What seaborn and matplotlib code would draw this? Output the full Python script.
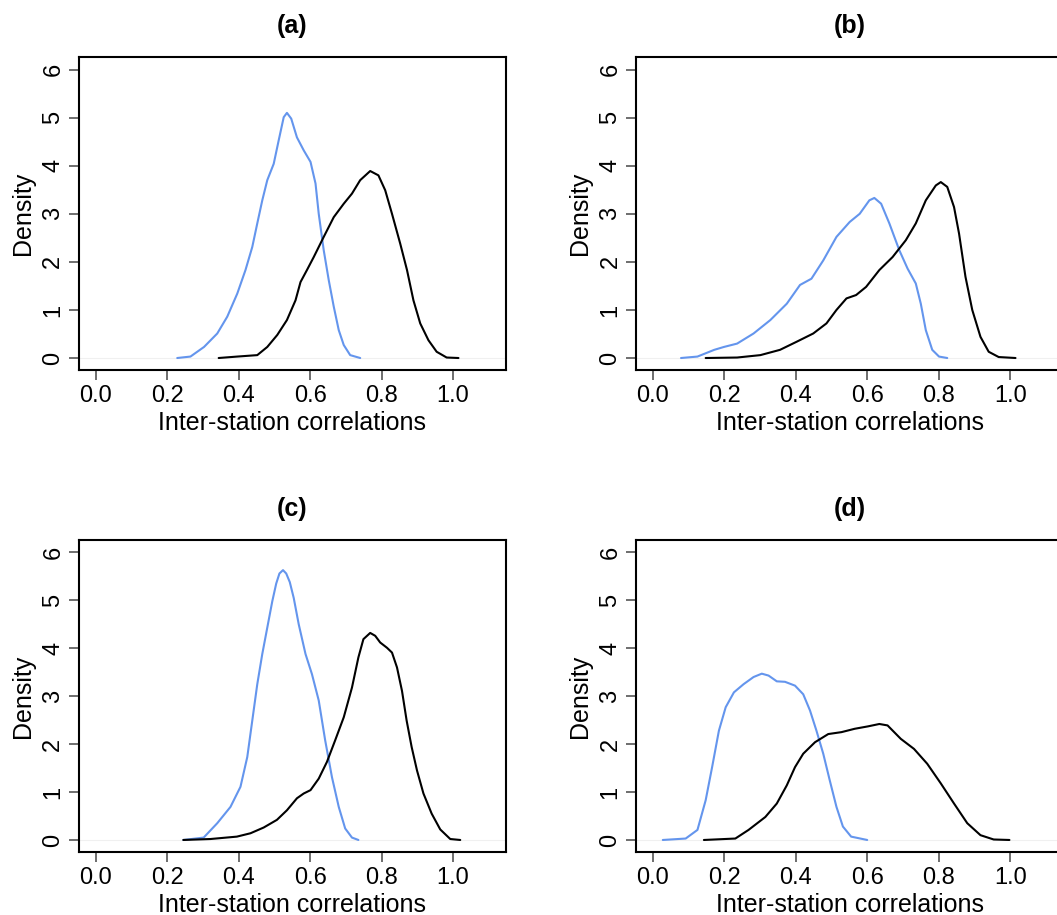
"""
Density curves of inter-station correlations, four panels (a)-(d).
"""

import matplotlib
matplotlib.use("Agg")
import matplotlib.pyplot as plt
import pandas as pd
import seaborn as sns

# ==========================================================
# Data (curve points)
# ==========================================================

PANEL_LABELS = ["(a)", "(b)", "(c)", "(d)"]

A_BLUE_X = [0.228, 0.265, 0.303, 0.340, 0.368, 0.396, 0.419, 0.438, 0.452, 0.466, 0.480,
            0.498, 0.512, 0.526, 0.535, 0.547, 0.563, 0.582, 0.601, 0.615, 0.624, 0.638,
            0.652, 0.666, 0.680, 0.694, 0.712, 0.740]
A_BLUE_Y = [0.00, 0.03, 0.23, 0.51, 0.86, 1.34, 1.83, 2.31, 2.80, 3.28, 3.70,
            4.04, 4.53, 5.01, 5.10, 4.98, 4.59, 4.32, 4.08, 3.63, 3.00, 2.24,
            1.62, 1.07, 0.58, 0.27, 0.06, 0.00]
A_BLACK_X = [0.344, 0.396, 0.452, 0.480, 0.508, 0.535, 0.559, 0.573, 0.591, 0.610, 0.638,
             0.666, 0.694, 0.717, 0.740, 0.768, 0.791, 0.810, 0.829, 0.852, 0.871, 0.889,
             0.908, 0.931, 0.954, 0.982, 1.015]
A_BLACK_Y = [0.00, 0.03, 0.06, 0.23, 0.48, 0.79, 1.20, 1.58, 1.83, 2.10, 2.52,
             2.93, 3.21, 3.42, 3.70, 3.89, 3.80, 3.49, 3.00, 2.38, 1.83, 1.20,
             0.72, 0.37, 0.13, 0.01, 0.00]

B_BLUE_X = [0.079, 0.125, 0.172, 0.199, 0.236, 0.282, 0.329, 0.375, 0.412, 0.444, 0.477,
            0.514, 0.551, 0.579, 0.606, 0.620, 0.639, 0.662, 0.690, 0.713, 0.736, 0.750,
            0.764, 0.782, 0.801, 0.824]
B_BLUE_Y = [0.00, 0.03, 0.17, 0.23, 0.30, 0.51, 0.79, 1.13, 1.52, 1.65, 2.03,
            2.52, 2.83, 3.00, 3.28, 3.33, 3.21, 2.80, 2.24, 1.86, 1.55, 1.13,
            0.58, 0.17, 0.03, 0.00]
B_BLACK_X = [0.148, 0.236, 0.301, 0.356, 0.403, 0.449, 0.486, 0.514, 0.542, 0.569, 0.597,
             0.634, 0.671, 0.708, 0.736, 0.764, 0.792, 0.806, 0.824, 0.843, 0.857, 0.875,
             0.894, 0.917, 0.940, 0.968, 1.015]
B_BLACK_Y = [0.00, 0.01, 0.06, 0.17, 0.34, 0.51, 0.72, 1.00, 1.24, 1.31, 1.48,
             1.83, 2.10, 2.45, 2.80, 3.28, 3.59, 3.66, 3.56, 3.14, 2.59, 1.69,
             1.00, 0.44, 0.13, 0.02, 0.00]

C_BLUE_X = [0.245, 0.302, 0.340, 0.377, 0.405, 0.424, 0.438, 0.452, 0.466, 0.480, 0.494,
            0.505, 0.514, 0.524, 0.533, 0.543, 0.554, 0.568, 0.587, 0.605, 0.624, 0.642,
            0.661, 0.680, 0.698, 0.717, 0.735]
C_BLUE_Y = [0.00, 0.05, 0.35, 0.69, 1.11, 1.73, 2.49, 3.25, 3.88, 4.43, 4.98,
            5.35, 5.56, 5.63, 5.56, 5.38, 5.05, 4.50, 3.88, 3.46, 2.91, 2.08,
            1.31, 0.69, 0.24, 0.05, 0.00]
C_BLACK_X = [0.245, 0.321, 0.395, 0.433, 0.470, 0.507, 0.535, 0.563, 0.582, 0.601, 0.624,
             0.647, 0.670, 0.694, 0.717, 0.735, 0.749, 0.768, 0.782, 0.796, 0.815, 0.829,
             0.843, 0.857, 0.870, 0.884, 0.899, 0.917, 0.940, 0.964, 0.992, 1.020]
C_BLACK_Y = [0.00, 0.02, 0.07, 0.14, 0.26, 0.42, 0.62, 0.87, 0.97, 1.04, 1.28,
             1.63, 2.08, 2.56, 3.18, 3.81, 4.19, 4.32, 4.26, 4.12, 4.01, 3.91,
             3.60, 3.11, 2.49, 1.94, 1.45, 0.97, 0.55, 0.22, 0.02, 0.00]

D_BLUE_X = [0.028, 0.092, 0.125, 0.148, 0.166, 0.185, 0.204, 0.227, 0.254, 0.282, 0.305,
            0.324, 0.347, 0.370, 0.398, 0.421, 0.440, 0.458, 0.477, 0.495, 0.514, 0.532,
            0.555, 0.600]
D_BLUE_Y = [0.00, 0.03, 0.21, 0.83, 1.52, 2.28, 2.77, 3.08, 3.25, 3.40, 3.47,
            3.43, 3.31, 3.30, 3.22, 3.04, 2.70, 2.28, 1.80, 1.25, 0.69, 0.28,
            0.07, 0.00]
D_BLACK_X = [0.143, 0.231, 0.268, 0.315, 0.347, 0.375, 0.398, 0.421, 0.454, 0.491, 0.528,
             0.565, 0.602, 0.634, 0.657, 0.694, 0.731, 0.768, 0.806, 0.843, 0.880, 0.917,
             0.954, 0.998]
D_BLACK_Y = [0.00, 0.03, 0.21, 0.48, 0.76, 1.14, 1.52, 1.80, 2.04, 2.21, 2.25,
             2.32, 2.37, 2.42, 2.39, 2.11, 1.90, 1.59, 1.18, 0.76, 0.35, 0.10,
             0.01, 0.00]

X_TICKS = [0.0, 0.2, 0.4, 0.6, 0.8, 1.0]
Y_TICKS = [0, 1, 2, 3, 4, 5, 6]

BLUE = "#6495ED"

PANELS = [
    (A_BLUE_X, A_BLUE_Y, A_BLACK_X, A_BLACK_Y),
    (B_BLUE_X, B_BLUE_Y, B_BLACK_X, B_BLACK_Y),
    (C_BLUE_X, C_BLUE_Y, C_BLACK_X, C_BLACK_Y),
    (D_BLUE_X, D_BLUE_Y, D_BLACK_X, D_BLACK_Y),
]

# axes positions in figure fractions (right column runs past the figure edge)
POSITIONS = [
    [0.0747, 0.5956, 0.404, 0.342],
    [0.6017, 0.5956, 0.404, 0.342],
    [0.0747, 0.0689, 0.404, 0.341],
    [0.6017, 0.0689, 0.404, 0.341],
]

# ==========================================================
# Plot
# ==========================================================

sns.set_style("ticks")
plt.rcParams["font.family"] = ["Liberation Sans", "DejaVu Sans"]
plt.rcParams["axes.linewidth"] = 1.5
plt.rcParams["text.color"] = "black"
plt.rcParams["axes.labelcolor"] = "black"
plt.rcParams["xtick.labelcolor"] = "black"
plt.rcParams["ytick.labelcolor"] = "black"

fig = plt.figure(figsize=(10.57, 9.15), dpi=100)

for label, (bx, by, kx, ky), pos in zip(PANEL_LABELS, PANELS, POSITIONS):

    ax = fig.add_axes(pos)

    ax.axhline(0, color="#f0f0f0", lw=0.8, zorder=0)

    sns.lineplot(
        data=pd.DataFrame({"x": bx, "y": by}),
        x="x", y="y", color=BLUE, lw=1.5, sort=False, ax=ax,
        solid_joinstyle="round",
    )
    sns.lineplot(
        data=pd.DataFrame({"x": kx, "y": ky}),
        x="x", y="y", color="black", lw=1.5, sort=False, ax=ax,
        solid_joinstyle="round",
    )

    ax.set_xlim(-0.047, 1.148)
    ax.set_ylim(-0.25, 6.26)
    ax.set_xticks(X_TICKS)
    ax.set_xticklabels([f"{t:.1f}" for t in X_TICKS])
    ax.set_yticks(Y_TICKS)
    ax.set_yticklabels([str(t) for t in Y_TICKS], rotation=90, va="center")

    ax.tick_params(axis="both", direction="out", length=7.5, width=1.2,
                   labelsize=17, color="#555555")
    ax.tick_params(axis="x", pad=3)
    ax.tick_params(axis="y", pad=3)

    for side in ["top", "right", "left", "bottom"]:
        ax.spines[side].set_visible(True)
        ax.spines[side].set_color("black")

    ax.set_xlabel("Inter-station correlations", fontsize=18, labelpad=3)
    ax.set_ylabel("Density", fontsize=18, labelpad=5)
    ax.set_title(label, fontsize=18, fontweight="bold", pad=17)

fig.savefig("out.png", dpi=100)
plt.close(fig)
